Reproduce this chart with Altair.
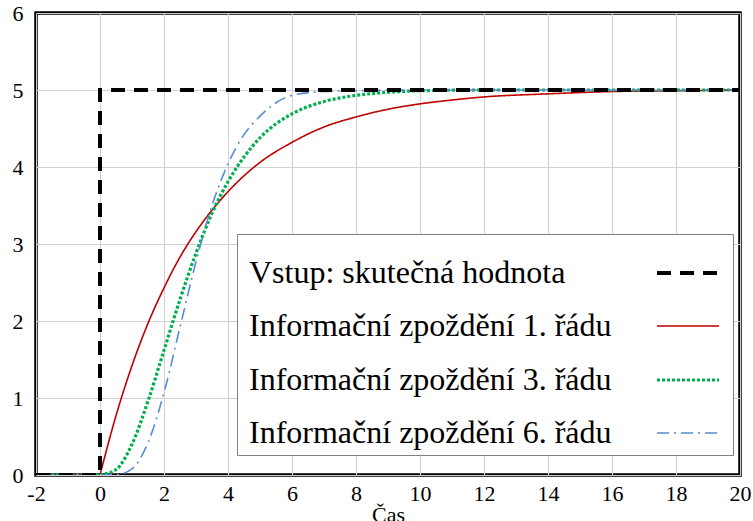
import altair as alt
import pandas as pd

series_names = [
    "Vstup: skutečná hodnota",
    "Informační zpoždění 1. řádu",
    "Informační zpoždění 3. řádu",
    "Informační zpoždění 6. řádu",
]
colors = ["#000000", "#C00000", "#00B050", "#558ED5"]
dashes = [[14, 9], [1, 0], [3, 2], [12, 5, 2, 5]]
widths = [4, 1.6, 3.2, 1.6]

x_ticks = [-2, 0, 2, 4, 6, 8, 10, 12, 14, 16, 18, 20]
y_ticks = [0, 1, 2, 3, 4, 5, 6]

# input (step)
input_t = [-2, 0, 0, 20]
input_v = [0, 0, 5, 5]

# 1st order delay
red_t = [0, 0.5, 1, 1.5, 2, 2.5, 3, 3.5, 4, 5, 6, 7, 8, 9, 10, 11, 12, 14, 16, 18, 20]
red_v = [0, 0.77, 1.42, 1.97, 2.43, 2.83, 3.16, 3.44, 3.68, 4.06, 4.32, 4.52, 4.65,
         4.75, 4.82, 4.87, 4.91, 4.95, 4.98, 4.99, 5.0]

# 3rd order delay
green_t = [0, 0.5, 1, 1.5, 2, 2.5, 3, 3.5, 4, 4.5, 5, 6, 7, 8, 9, 10, 12, 14, 16, 18, 20]
green_v = [0, 0.07, 0.40, 0.96, 1.62, 2.28, 2.88, 3.40, 3.81, 4.13, 4.38, 4.69, 4.85,
           4.93, 4.97, 4.99, 5.0, 5.0, 5.0, 5.0, 5.0]

# 6th order delay
blue_t = [0, 0.5, 1, 1.5, 2, 2.5, 3, 3.5, 4, 4.5, 5, 6, 7, 8, 10, 12, 14, 16, 18, 20]
blue_v = [0, 0.003, 0.08, 0.42, 1.07, 1.92, 2.77, 3.50, 4.04, 4.42, 4.66, 4.93, 4.98,
          4.99, 5.0, 5.0, 5.0, 5.0, 5.0, 5.0]

# flat part before t=0 for the delayed series
pre_t = [-2, 0]
pre_v = [0, 0]

rows = []
for i, (t, v) in enumerate(zip(input_t, input_v)):
    rows.append({"t": t, "v": v, "series": series_names[0], "seg": "in", "i": i})
curves = []
for name, ts, vs in [(series_names[1], red_t, red_v),
                     (series_names[2], green_t, green_v),
                     (series_names[3], blue_t, blue_v)]:
    for t, v in zip(pre_t, pre_v):
        curves.append({"t": t, "v": v, "series": name, "seg": name + "-pre"})
    for t, v in zip(ts, vs):
        curves.append({"t": t, "v": v, "series": name, "seg": name + "-main"})

df_in = pd.DataFrame(rows)
df_c = pd.DataFrame(curves)

FONT = "'Liberation Serif', 'Times New Roman', 'DejaVu Serif', serif"

leg = alt.Legend(
    title=None,
    orient="none",
    legendX=201,
    legendY=221,
    symbolType="stroke",
    symbolSize=3844,
    rowPadding=5,
    symbolOffset=412,
    labelFont=FONT,
    labelFontSize=32,
    labelColor="black",
    labelLimit=0,
    labelOffset={"expr": "-472"},
    labelAlign="left",
    fillColor="white",
    strokeColor="#808080",
    padding=6,
)

xenc = alt.X(
    "t:Q",
    scale=alt.Scale(domain=[-2, 20], nice=False, zero=False),
    axis=alt.Axis(values=x_ticks, title="Čas", titleFont=FONT, titleFontSize=22,
                  titleFontWeight="normal", titleColor="black", titlePadding=0,
                  labelFont=FONT, labelFontSize=22, labelColor="black",
                  labelExpr="'' + datum.value",
                  labelPadding=8, ticks=False, domain=False, gridColor="#d0d0d0",
                  labelFlush=False),
)
yenc = alt.Y(
    "v:Q",
    scale=alt.Scale(domain=[0, 6], nice=False),
    axis=alt.Axis(values=y_ticks, title=None, labelFont=FONT, labelFontSize=22,
                  labelColor="black", labelPadding=13, ticks=False, domain=False,
                  gridColor="#d0d0d0"),
)
cenc = alt.Color("series:N", scale=alt.Scale(domain=series_names, range=colors), legend=leg)
denc = alt.StrokeDash("series:N", scale=alt.Scale(domain=series_names, range=dashes), legend=leg)
wenc = alt.StrokeWidth("series:N", scale=alt.Scale(type="ordinal", domain=series_names, range=widths), legend=leg)

curve_layer = alt.Chart(df_c).mark_line(interpolate="monotone", clip=True).encode(
    x=xenc, y=yenc, color=cenc, strokeDash=denc, strokeWidth=wenc, detail="seg:N"
)
input_layer = alt.Chart(df_in).mark_line(interpolate="linear", clip=True).encode(
    x=xenc, y=yenc, color=cenc, strokeDash=denc, strokeWidth=wenc,
    order=alt.Order("i:Q")
)

chart = alt.layer(curve_layer, input_layer).properties(
    width=704,
    height=462,
    autosize=alt.AutoSizeParams(type="none"),
    padding={"left": 36, "top": 13, "right": 12, "bottom": 46},
    background="white",
).configure(
    font=FONT
).configure_axis(
    labelFont=FONT, titleFont=FONT
).configure_legend(
    labelFont=FONT
).configure_view(stroke="black", strokeWidth=3.5)

chart.save("out.html", embed_options={"renderer": "svg", "actions": False})
